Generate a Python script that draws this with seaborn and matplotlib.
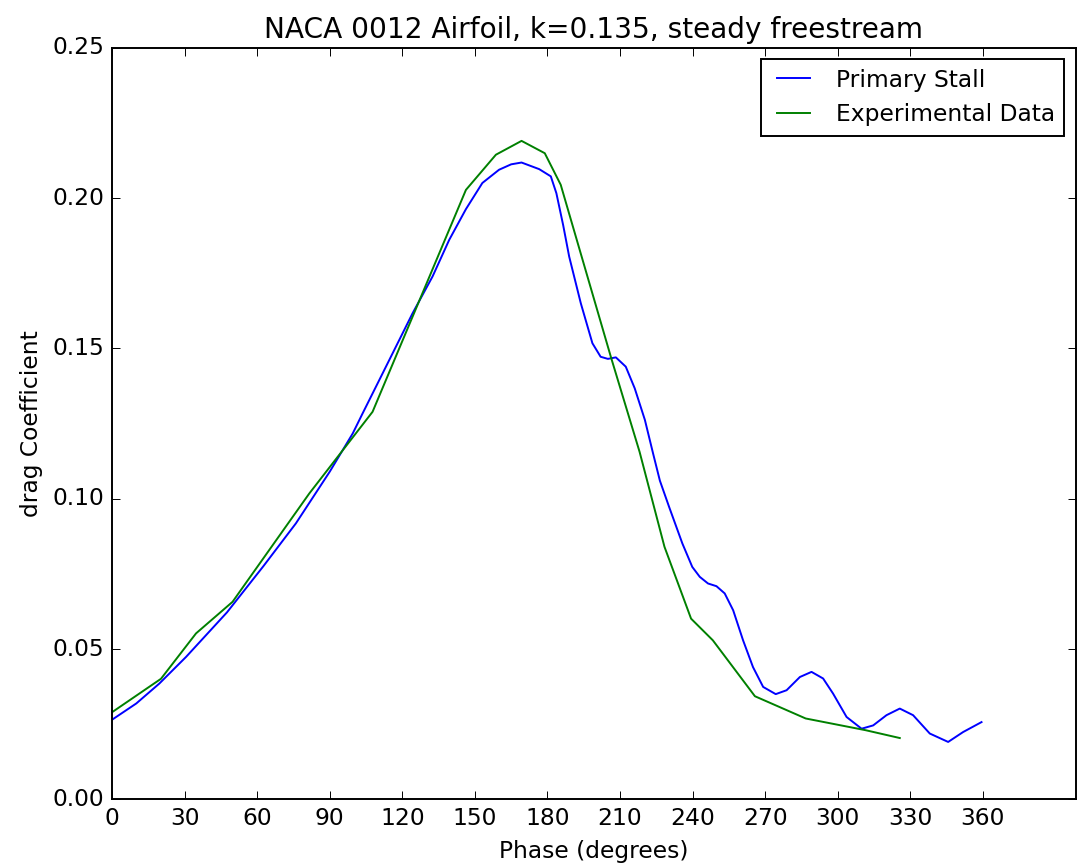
import pandas as pd
import seaborn as sns
import matplotlib
matplotlib.use("Agg")
import matplotlib.pyplot as plt

# Primary stall model
stall_phase = [0, 10, 19.5, 30.6, 47.5, 62.5, 76, 90, 99.5, 103.6, 110.5,
               124.2, 132.5, 139.4, 146.3, 153.1, 160, 165, 169.3, 176.6,
               181.4, 183.7, 186.5, 189, 193.8, 198.6, 202, 205, 208.3, 212.4,
               216.1, 220.3, 223.7, 226.5, 230.3, 235.8, 239.9, 243.0, 246.4,
               249.9, 253.3, 256.8, 260.9, 265.0, 269.2, 274.4, 278.9, 284.4,
               289.2, 294.0, 298.1, 303.7, 309.9, 314.7, 320.2, 325.7, 331.2,
               338.1, 345.7, 351.9, 359.5]
stall_cd = [0.0265, 0.0319, 0.0385, 0.0474, 0.0622, 0.0775, 0.0918, 0.1090,
            0.1217, 0.1284, 0.1395, 0.1616, 0.1739, 0.1861, 0.1963, 0.2050,
            0.2094, 0.2112, 0.2118, 0.2096, 0.2072, 0.2016, 0.1910, 0.1805,
            0.1650, 0.1517, 0.1472, 0.1465, 0.1470, 0.1439, 0.1367, 0.1262,
            0.1150, 0.1060, 0.0973, 0.0851, 0.0773, 0.0740, 0.0718, 0.0709,
            0.0685, 0.0629, 0.0529, 0.0440, 0.0374, 0.0350, 0.0363, 0.0407,
            0.0424, 0.0402, 0.0352, 0.0274, 0.0235, 0.0246, 0.0280, 0.0302,
            0.0280, 0.0219, 0.0191, 0.0224, 0.0257]

# Experimental data
exp_phase = [0, 20.2, 34.7, 49.8, 81.5, 107.7, 146.3, 158.7, 169.3, 178.9,
             185.5, 206.4, 218.1, 228.4, 239.4, 248.4, 265.8, 286.8, 311.6,
             325.7]
exp_cd = [0.0290, 0.0401, 0.0552, 0.0657, 0.1017, 0.1289, 0.2027, 0.2144,
          0.2190, 0.2149, 0.2044, 0.1467, 0.1156, 0.0840, 0.0601, 0.0529,
          0.0343, 0.0269, 0.0230, 0.0204]

plt.style.use("classic")
plt.rcParams["figure.facecolor"] = "white"
plt.rcParams["savefig.facecolor"] = "white"

stall = pd.DataFrame({"phase": stall_phase, "cd": stall_cd})
exp = pd.DataFrame({"phase": exp_phase, "cd": exp_cd})

fig, ax = plt.subplots(figsize=(7.7, 6.193), dpi=140)
fig.subplots_adjust(left=0.104, right=0.998, top=0.945, bottom=0.078)

sns.lineplot(data=stall, x="phase", y="cd", ax=ax, color="b", lw=1.0,
             sort=False, label="Primary Stall")
sns.lineplot(data=exp, x="phase", y="cd", ax=ax, color="g", lw=1.0,
             sort=False, label="Experimental Data")

ax.set_xlim(0, 398.5)
ax.set_ylim(0, 0.25)
ax.set_xticks(range(0, 361, 30))
ax.set_yticks([0, 0.05, 0.10, 0.15, 0.20, 0.25])
ax.set_yticklabels(["0.00", "0.05", "0.10", "0.15", "0.20", "0.25"])
ax.tick_params(labelsize=12)

ax.set_title("NACA 0012 Airfoil, k=0.135, steady freestream", fontsize=14.4)
ax.set_xlabel("Phase (degrees)", fontsize=12)
ax.set_ylabel("drag Coefficient", fontsize=12)
ax.legend(loc="upper right", fontsize=12)

plt.savefig("out.png", dpi=140)
